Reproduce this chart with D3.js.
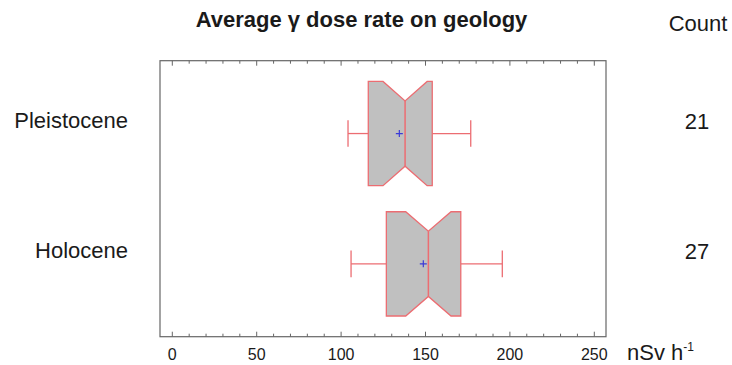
<!DOCTYPE html>
<html>
<head>
<meta charset="utf-8">
<script src="https://cdn.jsdelivr.net/npm/d3@7"></script>
<style>
  html, body { margin: 0; padding: 0; background: #fff; }
  svg { display: block; font-family: "Liberation Sans", Arial, sans-serif; }
</style>
</head>
<body>
<svg id="chart" width="732" height="365"></svg>
<script>
// Geology groups and their dose-rate summaries (nSv h^-1)
const categories = ["Pleistocene", "Holocene"];
const counts     = [21, 27];
const whiskerLo  = [104.1, 105.9];
const q1         = [116.1, 126.8];
const median     = [137.9, 151.7];
const q3         = [154.0, 170.9];
const whiskerHi  = [176.8, 195.5];
const means      = [134.5, 148.7];
const xTicks     = [0, 50, 100, 150, 200, 250];

const boxes = categories.map((c, i) => ({
  name: c, n: counts[i], lo: whiskerLo[i], q1: q1[i], med: median[i],
  q3: q3[i], hi: whiskerHi[i], mean: means[i],
  // notch half-width: 1.58 * IQR / sqrt(n)
  notch: 1.58 * (q3[i] - q1[i]) / Math.sqrt(counts[i])
}));

const svg = d3.select("#chart");
const frame = { left: 160, right: 606, top: 60.7, bottom: 336.7 };

const x = d3.scaleLinear().domain([0, 250]).range([172.3, 594.3]);
const y = d3.scalePoint().domain(categories)
  .range([frame.top, frame.bottom]).padding(0.559);

const step = y.step();
const halfBox = step * 0.4;
const notchDepth = 19.5;
const capHalf = 13.3;
const red = "#ec6d72";

// Title and column heading
svg.append("text").attr("x", 361.5).attr("y", 27)
  .attr("text-anchor", "middle").attr("font-size", 22).attr("font-weight", "bold")
  .attr("fill", "#1a1a1a").text("Average γ dose rate on geology");
svg.append("text").attr("x", 698).attr("y", 30.5)
  .attr("text-anchor", "middle").attr("font-size", 22)
  .attr("fill", "#1a1a1a").text("Count");

// Plot frame
svg.append("rect")
  .attr("x", frame.left).attr("y", frame.top)
  .attr("width", frame.right - frame.left).attr("height", frame.bottom - frame.top)
  .attr("fill", "none").attr("stroke", "#666").attr("stroke-width", 1.2);

// Tick marks along top and bottom edges
const minor = d3.range(0, 251, 10);
const tickG = svg.append("g").attr("stroke", "#666").attr("stroke-width", 1);
minor.forEach(v => {
  const len = v % 50 === 0 ? 5 : 3;
  tickG.append("line").attr("x1", x(v)).attr("x2", x(v))
    .attr("y1", frame.bottom).attr("y2", frame.bottom - len);
  tickG.append("line").attr("x1", x(v)).attr("x2", x(v))
    .attr("y1", frame.top).attr("y2", frame.top + len);
});

// Bottom axis labels
svg.append("g").selectAll("text").data(xTicks).join("text")
  .attr("x", d => x(d)).attr("y", 360)
  .attr("text-anchor", "middle").attr("font-size", 16).attr("fill", "#1a1a1a")
  .text(d => d);

const unit = svg.append("text").attr("x", 627).attr("y", 360)
  .attr("font-size", 22).attr("fill", "#1a1a1a");
unit.append("tspan").text("nSv h");
unit.append("tspan").attr("dy", -9).attr("font-size", 12).text("-1");

// Category labels and counts
svg.append("g").selectAll("text").data(boxes).join("text")
  .attr("x", 128).attr("y", d => y(d.name) - 5.5)
  .attr("text-anchor", "end").attr("font-size", 22).attr("fill", "#1a1a1a")
  .text(d => d.name);
svg.append("g").selectAll("text").data(boxes).join("text")
  .attr("x", 697).attr("y", d => y(d.name) - 4.5)
  .attr("text-anchor", "middle").attr("font-size", 22).attr("fill", "#1a1a1a")
  .text(d => d.n);

// Notched boxes with whiskers
const g = svg.append("g").selectAll("g").data(boxes).join("g");

g.each(function(d) {
  const el = d3.select(this);
  const cy = y(d.name);
  const top = cy - halfBox, bot = cy + halfBox;
  const nl = x(d.med - d.notch), nr = x(d.med + d.notch);

  // whiskers
  [[d.lo, d.q1], [d.q3, d.hi]].forEach(([a, b]) => {
    el.append("line").attr("x1", x(a)).attr("x2", x(b))
      .attr("y1", cy).attr("y2", cy).attr("stroke", red).attr("stroke-width", 1.3);
  });
  [d.lo, d.hi].forEach(v => {
    el.append("line").attr("x1", x(v)).attr("x2", x(v))
      .attr("y1", cy - capHalf).attr("y2", cy + capHalf)
      .attr("stroke", red).attr("stroke-width", 1.3);
  });

  const pts = [
    [x(d.q1), top], [nl, top], [x(d.med), top + notchDepth], [nr, top], [x(d.q3), top],
    [x(d.q3), bot], [nr, bot], [x(d.med), bot - notchDepth], [nl, bot], [x(d.q1), bot]
  ];
  el.append("path").attr("d", d3.line()(pts) + "Z")
    .attr("fill", "#c0c0c0").attr("stroke", red).attr("stroke-width", 1.3);
  el.append("line").attr("x1", x(d.med)).attr("x2", x(d.med))
    .attr("y1", top + notchDepth).attr("y2", bot - notchDepth)
    .attr("stroke", red).attr("stroke-width", 1.5);

  // mean marker
  const m = x(d.mean);
  el.append("path")
    .attr("d", `M${m - 3.5},${cy}H${m + 3.5}M${m},${cy - 3.5}V${cy + 3.5}`)
    .attr("stroke", "#3a3ad8").attr("stroke-width", 1.2).attr("fill", "none");
});
</script>
</body>
</html>
